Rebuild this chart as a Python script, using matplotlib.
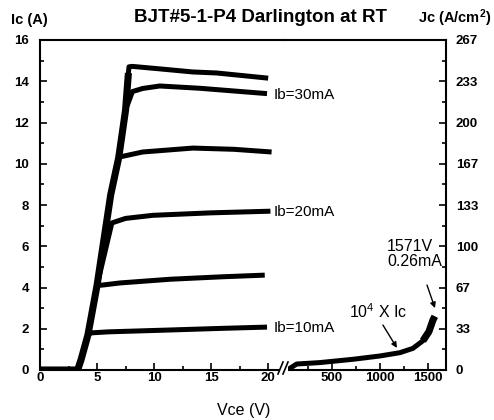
import matplotlib
matplotlib.use("Agg")
import matplotlib.pyplot as plt
from matplotlib.lines import Line2D
from matplotlib.patches import Rectangle

plt.rcParams['font.family'] = ['Liberation Sans', 'DejaVu Sans']
plt.rcParams['mathtext.fontset'] = 'custom'
plt.rcParams['mathtext.rm'] = 'Liberation Sans'
plt.rcParams['mathtext.bf'] = 'Liberation Sans:bold'
plt.rcParams['mathtext.default'] = 'regular'

# common rise (Vce in V, Ic in A)
rise_v = [0.0, 3.3, 3.6, 4.2, 5.0, 6.2, 6.9, 7.5, 7.75]
rise_i = [0.0, 0.0, 0.5, 1.7, 4.1, 8.5, 10.3, 12.6, 14.4]

# output curves after the knee
curve_v = [
    [4.5, 6.0, 11.4, 16.0, 19.9],
    [5.5, 7.0, 11.4, 16.0, 19.7],
    [6.3, 7.5, 9.9, 15.0, 20.2],
    [7.0, 9.0, 13.4, 17.0, 20.3],
    [8.1, 9.0, 10.5, 14.0, 19.9],
    [7.8, 8.1, 10.5, 13.4, 15.5, 20.0],
]
curve_i = [
    [1.8, 1.85, 1.94, 2.02, 2.08],
    [4.12, 4.22, 4.4, 4.52, 4.6],
    [7.13, 7.35, 7.5, 7.62, 7.7],
    [10.33, 10.57, 10.76, 10.7, 10.57],
    [13.5, 13.65, 13.77, 13.66, 13.4],
    [14.7, 14.72, 14.6, 14.45, 14.4, 14.15],
]
ib_labels = ["Ib=10mA", "Ib=20mA", "Ib=30mA"]
ib_label_i = [2.04, 7.66, 13.33]

# high voltage leakage, 10^4 x Ic
hv_v = [40, 62, 132, 375, 720, 1000, 1208, 1344, 1448, 1510, 1552, 1571]
hv_i = [0.0, 0.08, 0.29, 0.36, 0.52, 0.68, 0.84, 1.05, 1.42, 1.86, 2.42, 2.6]

ic_ticks = [0, 2, 4, 6, 8, 10, 12, 14, 16]
jc_labels = ["0", "33", "67", "100", "133", "167", "200", "233", "267"]
lv_ticks = [0, 5, 10, 15, 20]
hv_ticks = [500, 1000, 1500]

W, H = 494, 420
fig = plt.figure(figsize=(W / 100, H / 100), dpi=100)
x0, xb, x1 = 40, 283, 446
yb, yt = 370, 40
ax1 = fig.add_axes([x0 / W, 1 - yb / H, (xb - x0) / W, (yb - yt) / H])
ax2 = fig.add_axes([xb / W, 1 - yb / H, (x1 - xb) / W, (yb - yt) / H])
ax2.patch.set_visible(False)

lw = 3.6
for v, i in zip(curve_v, curve_i):
    k = sum(1 for r in rise_i if r < i[0])
    xs = rise_v[:k] + v
    ys = rise_i[:k] + i
    ax1.plot(xs, ys, color='black', lw=lw, solid_capstyle='butt', solid_joinstyle='round')
ax1.plot(rise_v, rise_i, color='black', lw=lw + 1.5, solid_capstyle='butt',
         solid_joinstyle='round')

ax2.plot(hv_v, hv_i, color='black', lw=lw, solid_capstyle='butt')
ax2.plot(hv_v[-4:], hv_i[-4:], color='black', lw=lw + 1.5, solid_capstyle='butt')

ax1.set_xlim(0, 21.3)
ax1.set_ylim(0, 16)
ax2.set_xlim(-10, 1688)
ax2.set_ylim(0, 16)

for ax in (ax1, ax2):
    for s in ax.spines.values():
        s.set_linewidth(1.5)
ax1.spines['right'].set_visible(False)
ax2.spines['left'].set_visible(False)

tfont = dict(fontsize=9.5, fontweight='bold')
ax1.set_xticks(lv_ticks)
ax1.set_xticks([2.5, 7.5, 12.5, 17.5], minor=True)
ax1.set_yticks(ic_ticks)
ax1.set_yticks([1, 3, 5, 7, 9, 11, 13, 15], minor=True)
ax1.set_xticklabels([str(t) for t in lv_ticks], **tfont)
ax1.set_yticklabels([str(t) for t in ic_ticks], **tfont)
ax1.tick_params(which='both', direction='in', width=1.2, right=False, top=False)
ax1.tick_params(axis='y', which='major', length=5, pad=8)
ax1.tick_params(axis='y', which='minor', length=3)
ax1.tick_params(axis='x', which='major', length=5, pad=1.5)
ax1.tick_params(axis='x', which='minor', length=3)

ax2.set_xticks(hv_ticks)
ax2.set_xticks([250, 750, 1250], minor=True)
ax2.set_xticklabels([str(t) for t in hv_ticks], **tfont)
ax2.set_yticks(ic_ticks)
ax2.set_yticks([1, 3, 5, 7, 9, 11, 13, 15], minor=True)
ax2.set_yticklabels(jc_labels, **tfont)
ax2.yaxis.tick_right()
ax2.tick_params(which='both', direction='in', width=1.2, left=False, top=False)
ax2.tick_params(axis='y', which='major', length=5, pad=7)
ax2.tick_params(axis='y', which='minor', length=3)
ax2.tick_params(axis='x', which='major', length=5, pad=1.5)
ax2.tick_params(axis='x', which='minor', length=3)

for lab, yi in zip(ib_labels, ib_label_i):
    ax1.text(20.5, yi, lab, fontsize=11, va='center', ha='left')

ax2.text(1073, 5.62, "1571V\n0.26mA", fontsize=11.5, ha='left', va='center', linespacing=1.0)
ax2.annotate("", xy=(1573, 3.0), xytext=(1490, 4.12),
             arrowprops=dict(arrowstyle='-|>', lw=1.0, color='black', mutation_scale=8,
                             shrinkA=0, shrinkB=0))
ax2.text(979, 2.81, "10$^4$ X Ic", fontsize=11.5, ha='center', va='center')
ax2.annotate("", xy=(1177, 1.07), xytext=(1031, 2.18),
             arrowprops=dict(arrowstyle='-|>', lw=1.0, color='black', mutation_scale=8,
                             shrinkA=0, shrinkB=0))

# axis break marks
fig.add_artist(Rectangle(((xb - 4) / W, 1 - 373 / H), 9 / W, 6 / H, transform=fig.transFigure,
                         facecolor='white', edgecolor='none', zorder=10))
for dx in (-5, 0):
    fig.add_artist(Line2D([(xb + dx) / W, (xb + dx + 5) / W], [1 - 374 / H, 1 - 362 / H],
                          transform=fig.transFigure, color='black', lw=1.2, zorder=11))

fig.text(260 / W, 1 - 18 / H, "BJT#5-1-P4 Darlington at RT", fontsize=13.5, fontweight='bold',
         ha='center', va='center')
fig.text(29 / W, 1 - 20 / H, "Ic (A)", fontsize=10.5, fontweight='bold', ha='center', va='center')
fig.text(455 / W, 1 - 18 / H, "Jc (A/cm$^2$)", fontsize=10.5, fontweight='bold',
         ha='center', va='center')
fig.text(244 / W, 1 - 410 / H, "Vce (V)", fontsize=11.5, ha='center', va='center')

fig.savefig("out.png", dpi=100)
